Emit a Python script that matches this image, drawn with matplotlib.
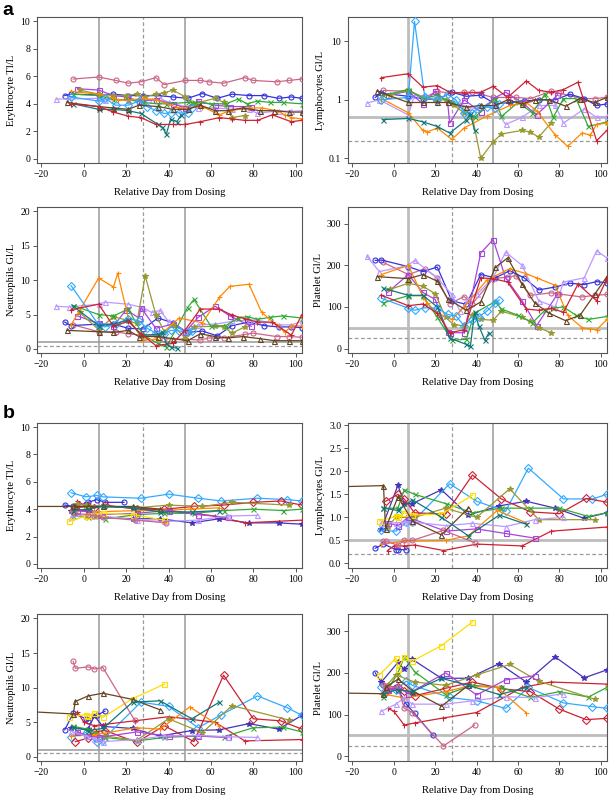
import numpy as np
import matplotlib
matplotlib.use("Agg")
import matplotlib.pyplot as plt

nan = np.nan

# ---------- cohort a ----------
a_blue_day = [-9, -6, 7, 14, 21, 28, 35, 42, 49, 56, 63, 70, 78, 85, 92, 98, 103]
a_blue_ery = [4.6, 4.7, 4.65, 4.7, 4.6, 4.6, 4.6, 4.5, 4.4, 4.75, 4.4, 4.7, 4.6, 4.6, 4.4, 4.5, 4.4]
a_blue_lym = [1.1, 1.3, 1.15, 1.05, 1.0, 1.35, 1.15, 1.2, 0.85, 0.9, 0.95, 1.0, 1.0, 1.25, 1.05, 0.8, 0.85]
a_blue_neu = [3.9, 3.4, 3.6, 3.6, 3.0, 2.9, 4.5, 3.8, 2.4, 2.6, 1.9, 3.4, 3.9, 3.4, 3.2, 3.2, 3.1]
a_blue_plt = [212, 213, 197, 185, 196, 115, 106, 178, 170, 187, 170, 141, 148, 157, 154, 161, 158]

a_pink_day = [-5, 7, 15, 21, 27, 34, 38, 48, 55, 59, 66, 76, 80, 91, 97, 103]
a_pink_ery = [5.8, 5.95, 5.7, 5.5, 5.6, 5.9, 5.4, 5.7, 5.7, 5.6, 5.5, 5.9, 5.7, 5.6, 5.7, 5.8]
a_pink_lym = [1.45, 1.4, 1.1, 1.4, 1.3, 1.35, 1.35, 1.1, 1.1, 1.1, 1.05, 1.4, 1.3, 1.05, 1.05, 1.1]
a_pink_neu = [3.5, 2.5, 2.5, 2.2, 2.0, 2.0, 1.5, 1.4, 1.3, 1.6, 1.6, 2.1, 2.3, 1.8, 1.8, 1.7]
a_pink_plt = [207, 178, 192, 170, 108, 125, 108, 168, 172, 175, 128, 134, 131, 124, 128, 130]

a_lav_day = [-13, -7, 7, 10, 21, 28, 32, 36, 40, 48, 54, 62, 70, 78, 82, 92, 98, 103]
a_lav_ery = [4.35, 4.35, 4.4, 4.3, 4.3, 4.25, 4.3, 4.4, 4.1, 3.8, 3.7, 3.7, 3.6, 3.6, 3.3, 3.5, 3.45, 3.5]
a_lav_lym = [0.88, 1.0, 0.55, 1.2, 1.1, 0.95, 0.85, 0.75, 0.7, 0.8, 0.38, 0.5, 0.8, 0.8, 0.4, 0.7, 0.5, 0.52]
a_lav_neu = [6.2, 6.1, 6.5, 6.8, 6.5, 6.0, 5.3, 5.6, 4.0, 2.6, 3.5, 3.6, 4.0, 4.2, 4.2, 3.5, 3.5, 4.0]
a_lav_plt = [222, 185, 200, 212, 170, 130, 90, 118, 130, 170, 232, 200, 115, 100, 160, 170, 235, 218]

a_purple_day = [-3, 7, 14, 20, 26, 27, 34, 42, 48, 54, 62, 69, 79]
a_purple_ery = [5.1, 5.0, 4.6, 4.5, 4.2, 4.2, 4.3, 4.0, 3.7, 4.2, 3.9, 3.8, 3.8]
a_purple_lym = [1.2, 1.4, 0.85, 1.4, 0.9, 0.4, 1.0, 0.62, 1.05, 1.35, 0.9, 0.55, 1.2]
a_purple_neu = [4.8, 3.7, 3.3, 5.7, 4.5, 6.0, 3.0, 3.6, 2.5, 4.6, 6.2, 4.8, 3.3]
a_purple_plt = [135, 178, 135, 118, 40, 38, 38, 230, 262, 170, 115, 55, 130]

a_olive_day = [-2, 7, 14, 20, 25, 29, 34, 38, 42, 48, 52, 62, 66, 70, 76]
a_olive_ery = [5.0, 4.7, 4.6, 4.6, 4.7, 4.5, 4.7, 4.8, 5.0, 4.5, 4.0, 4.4, 4.1, 3.0, 3.15]
a_olive_lym = [1.2, 1.45, 1.1, 1.0, 1.0, 0.8, 0.6, 0.5, 0.1, 0.19, 0.26, 0.3, 0.28, 0.23, 0.4]
a_olive_neu = [5.3, 2.8, 4.7, 4.2, 3.7, 10.6, 5.0, 2.5, 3.5, 1.5, 3.2, 3.3, 3.2, 2.3, 3.2]
a_olive_plt = [142, 157, 150, 132, 75, 57, 55, 80, 70, 68, 90, 75, 65, 50, 38]

a_green_day = [-5, 7, 14, 21, 28, 35, 39, 49, 52, 60, 67, 73, 77, 82, 88, 94, 103]
a_green_ery = [4.7, 4.6, 4.3, 4.3, 4.1, 4.0, 4.0, 4.1, 4.1, 4.0, 4.0, 4.35, 4.0, 4.2, 4.1, 4.1, 4.0]
a_green_lym = [1.2, 1.5, 1.05, 1.2, 0.9, 0.65, 0.5, 1.05, 0.52, 0.9, 0.6, 1.25, 0.5, 1.05, 1.05, 0.35, 0.42]
a_green_neu = [6.3, 5.0, 4.8, 5.8, 2.0, 0.8, 0.3, 6.0, 7.2, 3.3, 3.4, 4.5, 4.7, 4.3, 4.6, 4.8, 4.5]
a_green_plt = [110, 127, 127, 75, 20, 22, 85, 113, 95, 80, 62, 92, 97, 100, 80, 70, 77]

a_orange_day = [-6, 7, 14, 16, 21, 28, 34, 45, 56, 64, 69, 78, 84, 91, 95, 98, 103]
a_orange_ery = [4.9, 4.7, 4.4, 4.3, 4.25, 4.4, 4.3, 3.7, 3.8, 3.2, 3.5, 3.7, 3.7, 3.5, 3.2, 3.0, 2.9]
a_orange_lym = [1.05, 0.6, 0.3, 0.28, 0.33, 0.21, 0.33, 0.53, 0.8, 0.9, 0.65, 0.25, 0.16, 0.27, 0.25, 0.38, 0.4]
a_orange_neu = [3.5, 10.3, 9.0, 11.0, 4.5, 1.3, 1.4, 4.5, 3.8, 7.5, 9.1, 9.4, 5.3, 3.5, 2.4, 3.4, 3.3]
a_orange_plt = [178, 200, 125, 110, 85, 70, 100, 165, 192, 180, 170, 152, 80, 50, 47, 45, 70]

a_sky_day = [-6, 7, 10, 15, 21, 26, 30, 34, 38, 41, 45, 49, 51]
a_sky_ery = [4.5, 4.2, 4.4, 3.9, 3.9, 4.2, 3.8, 3.5, 3.3, 3.35, 3.35, 3.3, 3.7]
a_sky_lym = [1.0, 1.1, 22.0, 1.1, 1.0, 1.25, 1.0, 0.6, 0.6, 0.75, 0.75, 0.72, 0.85]
a_sky_neu = [9.2, 3.5, 3.2, 3.6, 4.4, 4.1, 3.0, 2.3, 2.2, 2.7, 2.6, 2.5, 2.6]
a_sky_plt = [121, 97, 92, 98, 97, 82, 78, 55, 68, 76, 90, 110, 117]

a_teal_day = [-5, 7, 14, 21, 27, 35, 37, 39, 41, 44, 46]
a_teal_ery = [4.0, 3.6, 3.6, 3.5, 3.3, 2.5, 2.3, 1.8, 2.9, 2.7, 3.2]
a_teal_lym = [0.46, 0.48, 0.42, 0.35, 0.27, 0.45, 0.58, 0.3, nan, nan, nan]
a_teal_neu = [6.2, 3.4, 3.6, 4.2, 2.0, 2.1, 2.4, 0.8, 0.3, 0.1, nan]
a_teal_plt = [145, 128, 128, 100, 25, 10, 5, 88, 55, 20, 38]

a_brown_day = [-8, 7, 14, 21, 26, 35, 42, 49, 55, 62, 68, 75, 83, 90, 97, 103]
a_brown_ery = [4.1, 3.8, 3.7, 3.6, 3.9, 3.8, 3.6, 3.6, 3.9, 3.5, 3.5, 3.7, 3.5, 3.5, 3.4, 3.4]
a_brown_lym = [1.4, 0.9, 0.9, 0.9, 0.9, 0.75, 0.8, 0.8, 1.0, 0.85, 1.0, 1.0, 0.78, 1.05, 0.9, 1.1]
a_brown_neu = [2.7, 2.5, 2.4, 2.7, 1.8, 1.8, 1.5, 1.2, 2.2, 1.8, 1.6, 1.8, 1.5, 1.2, 1.2, 1.2]
a_brown_plt = [173, 168, 178, 162, 120, 92, 112, 195, 218, 155, 110, 85, 67, 80, 130, 173]

a_red_day = [-6, 7, 14, 21, 27, 34, 42, 48, 55, 64, 70, 76, 82, 89, 98, 103]
a_red_ery = [4.0, 3.8, 3.4, 3.1, 3.0, 2.5, 2.5, 2.5, 2.7, 3.0, 2.9, 2.8, 2.8, 3.2, 2.7, 2.8]
a_red_lym = [2.4, 2.8, 1.65, 1.75, 1.35, 1.3, 1.35, 1.7, 1.1, 2.1, 1.45, 1.35, 1.5, 2.0, 0.2, 0.3]
a_red_neu = [5.7, 6.5, 3.3, 4.0, 2.2, 0.5, 0.8, 2.8, 5.8, 5.8, 4.9, 4.4, 3.9, 3.9, 2.0, 5.0]
a_red_plt = [128, 103, 107, 85, 38, 45, 170, 168, 160, 95, 92, 97, 87, 155, 115, 168]

# ---------- cohort b ----------
b_blue_day = [-9, -5, 1, 2, 6, 10, 19]
b_blue_ery = [4.3, 4.2, 4.4, 4.5, 4.7, 4.5, 4.5]
b_blue_lym = [0.33, 0.42, 0.3, 0.3, 0.3, nan, nan]
b_blue_neu = [3.9, 6.3, 5.5, 5.2, 6.0, 6.6, nan]
b_blue_plt = [200, 170, 165, 160, 125, 103, 50]

b_navy_day = [-6, 2, 5, 9, 23, 36, 51, 64, 78, 92, 103]
b_navy_ery = [3.9, 3.9, 3.7, 3.4, 3.3, 3.3, 3.0, 3.3, 3.0, 3.0, 2.9]
b_navy_lym = [0.75, 1.7, 1.3, 1.3, 1.6, 1.05, 1.25, 1.35, 1.2, 0.98, 1.1]
b_navy_neu = [4.1, 4.0, 5.9, 4.4, 4.1, 3.0, 3.8, 3.9, 4.8, 4.0, 6.0]
b_navy_plt = [178, 225, 208, 232, 187, 187, 222, 178, 238, 188, 207]

b_sky_day = [-6, 1, 6, 9, 27, 40, 54, 65, 82, 96, 103]
b_sky_ery = [5.2, 4.9, 5.0, 4.9, 4.8, 5.1, 4.8, 4.6, 4.8, 4.7, 4.6]
b_sky_lym = [0.72, 0.7, 0.9, 0.9, 1.73, 1.35, 1.13, 2.07, 1.4, 1.4, 1.5]
b_sky_neu = [2.9, 3.5, 2.1, 2.5, 7.9, 7.3, 4.2, 6.1, 8.8, 7.1, 6.0]
b_sky_plt = [167, 160, 180, 170, 141, 133, 115, 165, 128, 119, 115]

b_reddia_day = [-4, 2, 5, 10, 25, 38, 52, 66, 80, 93, 103]
b_reddia_ery = [4.1, 4.2, 4.1, 4.3, 4.0, 4.0, 4.2, 4.3, 4.5, 4.6, 4.3]
b_reddia_lym = [1.35, 1.5, 1.4, 1.1, 1.07, 1.92, 1.4, 1.12, 1.08, 1.41, 1.33]
b_reddia_neu = [2.2, 2.7, 3.6, 3.8, 2.1, 4.5, 2.2, 11.8, 5.5, 5.2, 4.0]
b_reddia_plt = [155, 165, 157, 145, 163, 178, 162, 155, 113, 88, 91]

b_red_day = [-3, 0, 5, 10, 24, 40, 62, 76, 103]
b_red_ery = [4.6, 4.3, 4.2, 4.2, 4.1, 3.9, 3.5, 3.0, 3.2]
b_red_lym = [0.28, 0.38, 0.38, 0.4, 0.28, 0.42, 0.38, 0.7, 0.79]
b_red_neu = [6.5, 5.0, 4.5, 4.7, 5.2, 5.8, 5.0, 2.3, 2.5]
b_red_plt = [115, 108, 75, 80, 92, 105, 165, 178, 173]

b_green_day = [-5, 2, 5, 10, 25, 38, 52, 66, 80, 94, 103]
b_green_ery = [3.5, 3.4, 3.5, 3.3, 3.6, 3.7, 3.7, 3.9, 4.0, 3.9, 4.0]
b_green_lym = [1.2, 1.2, 1.6, 1.5, 1.3, 1.1, 1.2, 1.2, 1.2, 1.02, 1.1]
b_green_neu = [4.4, 4.0, 3.5, 2.8, 2.3, 2.8, 3.0, 2.9, 4.2, 4.3, 3.6]
b_green_plt = [143, 200, 237, 203, 148, 170, 165, 141, 155, 142, 165]

b_olive_day = [-3, 1, 10, 25, 40, 56, 70, 97]
b_olive_ery = [4.4, 4.3, 4.2, 4.1, 4.3, 4.2, 4.5, 4.3]
b_olive_lym = [0.8, 1.0, 1.0, 1.2, 1.0, 1.62, 0.95, 0.95]
b_olive_neu = [3.5, 3.0, 3.0, 2.4, 5.5, 3.5, 7.4, 5.3]
b_olive_plt = [172, 195, 178, 170, 195, 220, 180, 137]

b_orange_day = [-6, 5, 25, 36, 50, 64]
b_orange_ery = [3.9, 3.8, 3.9, 3.9, 4.0, 4.1]
b_orange_lym = [0.42, 0.48, 0.5, 0.6, 1.15, 0.88]
b_orange_neu = [3.0, 3.2, 4.2, 4.0, 7.2, 4.5]
b_orange_plt = [150, 140, 155, 168, 165, 104]

b_purple_day = [-3, 2, 7, 25, 40, 54, 68]
b_purple_ery = [3.9, 3.8, 3.6, 3.7, 3.9, 3.6, 3.4]
b_purple_lym = [0.88, 0.82, 1.0, 0.7, 0.75, 0.65, 0.55]
b_purple_neu = [3.6, 3.0, 2.8, 3.6, 3.0, 3.0, 2.8]
b_purple_plt = [160, 165, 150, 200, 147, 183, 193]

b_lav_day = [-6, 1, 5, 9, 25, 38, 54, 68, 82]
b_lav_ery = [3.4, 3.6, 3.7, 3.5, 3.2, 3.1, 3.2, 3.5, 3.55]
b_lav_lym = [0.88, 0.88, 0.9, 0.9, 0.82, 0.87, 0.8, 0.95, 1.0]
b_lav_neu = [3.7, 3.0, 2.6, 2.2, 2.5, 3.0, 3.1, 2.9, 2.8]
b_lav_plt = [108, 125, 140, 125, 125, 133, 143, 140, 150]

b_yellow_day = [-7, 1, 2, 5, 9, 23, 38]
b_yellow_ery = [3.1, 3.5, 3.6, 3.6, 3.7, 3.6, 3.2]
b_yellow_lym = [0.92, 1.02, 1.0, 1.1, 1.05, 1.07, 1.48]
b_yellow_neu = [5.8, 6.1, 5.9, 6.3, 5.7, 8.4, 10.5]
b_yellow_plt = [195, 235, 210, 237, 228, 265, 322]

b_pink_day = [-5, -4, 2, 5, 9, 24, 39]
b_pink_ery = [3.8, 3.7, 3.6, 3.5, 3.4, 3.2, 3.0]
b_pink_lym = [0.48, 0.48, 0.4, 0.5, 0.5, 0.72, 0.45]
b_pink_neu = [13.8, 12.8, 13.0, 12.7, 12.9, 5.3, nan]
b_pink_plt = [170, 168, 165, 115, 105, 25, 75]

b_brown_day = [-30, -5, -4, 2, 9, 23, 36]
b_brown_ery = [4.2, 4.2, 4.2, 4.2, 4.2, 4.2, 4.0]
b_brown_lym = [1.66, 1.69, 0.75, 1.45, 0.92, 0.62, 1.2]
b_brown_neu = [6.6, 6.2, 8.0, 8.8, 9.2, 8.3, 6.8]
b_brown_plt = [152, 150, 165, 185, 157, 120, 170]

b_teal_day = [-5, 2, 9, 23, 36, 51, 64]
b_teal_ery = [3.9, 4.0, 4.2, 4.1, 3.8, 3.8, 3.9]
b_teal_lym = [1.2, 1.15, 1.38, 1.0, 0.6, 1.05, 0.85]
b_teal_neu = [4.3, 3.8, 4.1, 7.9, 8.1, 5.5, 7.9]
b_teal_plt = [150, 160, 155, 187, 170, 148, 165]

# subject -> (days, ery, lym, neu, plt, colour, marker)
cohort_a = [
    (a_pink_day, a_pink_ery, a_pink_lym, a_pink_neu, a_pink_plt, '#cc6688', 'o'),
    (a_blue_day, a_blue_ery, a_blue_lym, a_blue_neu, a_blue_plt, '#3333dd', 'o'),
    (a_lav_day, a_lav_ery, a_lav_lym, a_lav_neu, a_lav_plt, '#bb99ff', '^'),
    (a_purple_day, a_purple_ery, a_purple_lym, a_purple_neu, a_purple_plt, '#aa44dd', 's'),
    (a_olive_day, a_olive_ery, a_olive_lym, a_olive_neu, a_olive_plt, '#999933', '*'),
    (a_green_day, a_green_ery, a_green_lym, a_green_neu, a_green_plt, '#33aa33', 'x'),
    (a_orange_day, a_orange_ery, a_orange_lym, a_orange_neu, a_orange_plt, '#ff8800', '+'),
    (a_sky_day, a_sky_ery, a_sky_lym, a_sky_neu, a_sky_plt, '#33aaff', 'D'),
    (a_teal_day, a_teal_ery, a_teal_lym, a_teal_neu, a_teal_plt, '#117777', 'x'),
    (a_brown_day, a_brown_ery, a_brown_lym, a_brown_neu, a_brown_plt, '#664422', '^'),
    (a_red_day, a_red_ery, a_red_lym, a_red_neu, a_red_plt, '#cc2233', '+'),
]
cohort_b = [
    (b_blue_day, b_blue_ery, b_blue_lym, b_blue_neu, b_blue_plt, '#3333dd', 'o'),
    (b_navy_day, b_navy_ery, b_navy_lym, b_navy_neu, b_navy_plt, '#4433bb', '*'),
    (b_sky_day, b_sky_ery, b_sky_lym, b_sky_neu, b_sky_plt, '#33aaff', 'D'),
    (b_reddia_day, b_reddia_ery, b_reddia_lym, b_reddia_neu, b_reddia_plt, '#cc2233', 'D'),
    (b_red_day, b_red_ery, b_red_lym, b_red_neu, b_red_plt, '#cc2233', '+'),
    (b_green_day, b_green_ery, b_green_lym, b_green_neu, b_green_plt, '#33aa33', 'x'),
    (b_olive_day, b_olive_ery, b_olive_lym, b_olive_neu, b_olive_plt, '#999933', '*'),
    (b_orange_day, b_orange_ery, b_orange_lym, b_orange_neu, b_orange_plt, '#ff8800', '+'),
    (b_purple_day, b_purple_ery, b_purple_lym, b_purple_neu, b_purple_plt, '#aa44dd', 's'),
    (b_lav_day, b_lav_ery, b_lav_lym, b_lav_neu, b_lav_plt, '#bb99ff', '^'),
    (b_yellow_day, b_yellow_ery, b_yellow_lym, b_yellow_neu, b_yellow_plt, '#ffdd00', 's'),
    (b_pink_day, b_pink_ery, b_pink_lym, b_pink_neu, b_pink_plt, '#cc6688', 'o'),
    (b_brown_day, b_brown_ery, b_brown_lym, b_brown_neu, b_brown_plt, '#664422', '^'),
    (b_teal_day, b_teal_ery, b_teal_lym, b_teal_neu, b_teal_plt, '#117777', 'x'),
]

plt.rcParams['font.family'] = ['Liberation Serif', 'DejaVu Serif']
GREY = '#9a9a9a'
LIGHT = '#bdbdbd'

fig = plt.figure(figsize=(6.10, 7.97), dpi=100)

# axes boxes [left, bottom, width, height] in figure fraction
col_x = [(0.061, 0.434), (0.571, 0.424)]
row_y = [(0.7955, 0.183), (0.557, 0.183), (0.2873, 0.182), (0.0452, 0.184)]


def panel(ax, cohort, idx, ylabel, ylim, yticks, ylabs=None, log=False, hlines=None, right=False):
    for s in cohort:
        days, vals, col, mk = s[0], s[idx], s[5], s[6]
        filled = mk in ('*', 'x', '+')
        ax.plot(days, vals, color=col, lw=0.9, marker=mk, ms=3.6 if mk != '*' else 4.2,
                mew=0.8, mfc=col if filled else 'none', mec=col, zorder=3)
    if log:
        ax.set_yscale('log')
    ax.set_xlim(-22, 103)
    ax.set_ylim(*ylim)
    ax.set_xticks([-20, 0, 20, 40, 60, 80, 100])
    ax.set_yticks(yticks)
    if ylabs is not None:
        ax.set_yticklabels(ylabs)
    ax.yaxis.set_minor_locator(matplotlib.ticker.NullLocator())
    # right-hand panels draw the first reference lines wider and paler
    wide = dict(color=LIGHT, lw=2.0) if right else dict(color=GREY, lw=1.1)
    ax.axvline(7, zorder=1, **wide)
    ax.axvline(48, color=GREY, lw=1.1, zorder=1)
    ax.axvline(28, color=GREY, lw=0.9, ls=(0, (3, 2)), zorder=1)
    if hlines:
        ax.axhline(hlines[0], zorder=1, **wide)
        ax.axhline(hlines[1], color=GREY, lw=0.9, ls=(0, (3, 2)), zorder=1)
    ax.set_xlabel('Relative Day from Dosing', fontsize=7.6, labelpad=6)
    ax.set_ylabel(ylabel, fontsize=7.6, labelpad=3)
    ax.tick_params(labelsize=7, length=3, width=0.7, color='#555555', direction='out', pad=2)
    for sp in ax.spines.values():
        sp.set_color('#555555')
        sp.set_linewidth(0.8)


for blk, cohort in enumerate([cohort_a, cohort_b]):
    r0 = blk * 2
    ax = fig.add_axes([col_x[0][0], row_y[r0][0], col_x[0][1], row_y[r0][1]])
    panel(ax, cohort, 1, 'Erythrocyte Tl/L', (-0.3, 10.3), [0, 2, 4, 6, 8, 10])

    ax = fig.add_axes([col_x[1][0], row_y[r0][0], col_x[1][1], row_y[r0][1]])
    if blk == 0:
        panel(ax, cohort, 2, 'Lymphocytes Gl/L', (0.083, 26), [0.1, 1, 10],
              ['0.1', '1', '10'], log=True, hlines=(0.5, 0.2), right=True)
    else:
        panel(ax, cohort, 2, 'Lymphocytes Gl/L', (-0.1, 3.05),
              [0, 0.5, 1, 1.5, 2, 2.5, 3], ['0.0', '0.5', '1.0', '1.5', '2.0', '2.5', '3.0'],
              hlines=(0.5, 0.2), right=True)

    ax = fig.add_axes([col_x[0][0], row_y[r0 + 1][0], col_x[0][1], row_y[r0 + 1][1]])
    panel(ax, cohort, 3, 'Neutrophils Gl/L', (-0.6, 20.6), [0, 5, 10, 15, 20], hlines=(1.0, 0.5))

    ax = fig.add_axes([col_x[1][0], row_y[r0 + 1][0], col_x[1][1], row_y[r0 + 1][1]])
    panel(ax, cohort, 4, 'Platelet Gl/L', (-11, 340), [0, 100, 200, 300], hlines=(50, 25), right=True)

fig.text(0.004, 0.997, 'a', fontsize=14, fontweight='bold', family='Liberation Sans', va='top')
fig.text(0.004, 0.492, 'b', fontsize=14, fontweight='bold', family='Liberation Sans', va='top')

fig.savefig('out.png', dpi=100)
